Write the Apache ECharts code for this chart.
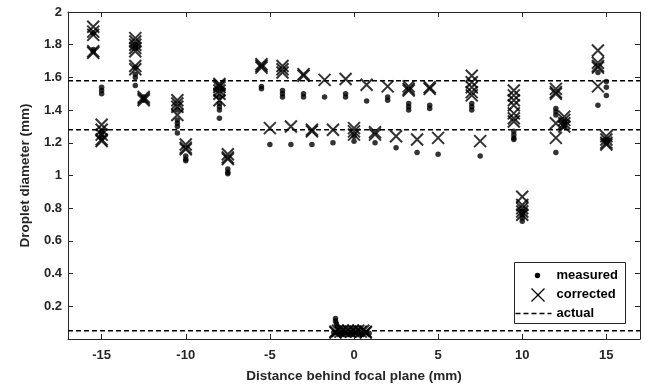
<!DOCTYPE html>
<html lang="en">
<head>
<meta charset="UTF-8">
<title>Droplet diameter</title>
<script src="https://cdn.jsdelivr.net/npm/echarts@6/dist/echarts.min.js"></script>
<style>
  html, body { margin: 0; width: 100%; height: 100%; background: #fff; }
  #chart { width: 654px; height: 389px; }
</style>
</head>
<body>
<div id="chart"></div>
<script>
// [distance (mm), diameter (mm)]
var measured = [
  [-15.5, 1.87], [-15.5, 1.77], [-15.5, 1.76],
  [-15, 1.54], [-15, 1.52], [-15, 1.50], [-15, 1.27], [-15, 1.25], [-15, 1.23],
  [-13, 1.80], [-13, 1.78], [-13, 1.66], [-13, 1.62], [-13, 1.60], [-13, 1.55],
  [-12.5, 1.48], [-12.5, 1.46],
  [-10.5, 1.40], [-10.5, 1.34], [-10.5, 1.32], [-10.5, 1.30], [-10.5, 1.26],
  [-10, 1.12], [-10, 1.10], [-10, 1.09],
  [-8, 1.53], [-8, 1.48], [-8, 1.44], [-8, 1.42], [-8, 1.40], [-8, 1.35],
  [-7.5, 1.04], [-7.5, 1.02], [-7.5, 1.01],
  [-5.5, 1.545], [-5.5, 1.53],
  [-5, 1.19],
  [-4.25, 1.52], [-4.25, 1.50], [-4.25, 1.48],
  [-3.75, 1.19],
  [-3, 1.50], [-3, 1.48],
  [-2.5, 1.19],
  [-1.75, 1.48],
  [-1.25, 1.20],
  [-0.5, 1.50], [-0.5, 1.48],
  [0, 1.24], [0, 1.21],
  [0.75, 1.455],
  [1.25, 1.20],
  [2, 1.48], [2, 1.46],
  [2.5, 1.17],
  [3.25, 1.44], [3.25, 1.42], [3.25, 1.40],
  [3.75, 1.14],
  [4.5, 1.43], [4.5, 1.41],
  [5, 1.13],
  [7, 1.44], [7, 1.42], [7, 1.40],
  [7.5, 1.12],
  [9.5, 1.27], [9.5, 1.25], [9.5, 1.23], [9.5, 1.22],
  [10, 0.78], [10, 0.76], [10, 0.74], [10, 0.72],
  [12, 1.41], [12, 1.39], [12, 1.37], [12, 1.14],
  [12.5, 1.33], [12.5, 1.31], [12.5, 1.30],
  [14.5, 1.63], [14.5, 1.43],
  [15, 1.575], [15, 1.54], [15, 1.49], [15, 1.22], [15, 1.20],
  [-1.1, 0.125], [-1.1, 0.11], [-1.05, 0.095], [-1.0, 0.08],
  [-1.2, 0.04], [-1, 0.04], [-0.75, 0.035], [-0.5, 0.04], [-0.25, 0.03], [0, 0.04],
  [0.25, 0.035], [0.5, 0.03], [0.75, 0.04], [0.9, 0.035]
];

var corrected = [
  [-15.5, 1.91], [-15.5, 1.88], [-15.5, 1.86], [-15.5, 1.76], [-15.5, 1.75],
  [-15, 1.31], [-15, 1.28], [-15, 1.25], [-15, 1.22], [-15, 1.21],
  [-13, 1.84], [-13, 1.82], [-13, 1.80], [-13, 1.78], [-13, 1.76], [-13, 1.67], [-13, 1.65],
  [-12.5, 1.48], [-12.5, 1.47], [-12.5, 1.46],
  [-10.5, 1.46], [-10.5, 1.44], [-10.5, 1.42], [-10.5, 1.37],
  [-10, 1.19], [-10, 1.17], [-10, 1.16],
  [-8, 1.56], [-8, 1.55], [-8, 1.54], [-8, 1.52], [-8, 1.50], [-8, 1.46],
  [-7.5, 1.13], [-7.5, 1.11], [-7.5, 1.10],
  [-5.5, 1.68], [-5.5, 1.67], [-5.5, 1.66],
  [-5, 1.29],
  [-4.25, 1.67], [-4.25, 1.65], [-4.25, 1.63],
  [-3.75, 1.30],
  [-3, 1.62], [-3, 1.61],
  [-2.5, 1.28], [-2.5, 1.27],
  [-1.75, 1.585],
  [-1.25, 1.28],
  [-0.5, 1.59],
  [0, 1.29], [0, 1.27], [0, 1.25],
  [0.75, 1.555],
  [1.25, 1.265], [1.25, 1.25],
  [2, 1.545],
  [2.5, 1.24],
  [3.25, 1.545], [3.25, 1.53], [3.25, 1.52],
  [3.75, 1.22],
  [4.5, 1.54], [4.5, 1.53],
  [5, 1.23],
  [7, 1.61], [7, 1.57], [7, 1.54], [7, 1.51], [7, 1.49],
  [7.5, 1.21],
  [9.5, 1.52], [9.5, 1.49], [9.5, 1.46], [9.5, 1.43], [9.5, 1.38], [9.5, 1.35], [9.5, 1.33],
  [10, 0.87], [10, 0.82], [10, 0.80], [10, 0.78], [10, 0.76],
  [12, 1.53], [12, 1.51], [12, 1.50], [12, 1.32], [12, 1.23],
  [12.5, 1.36], [12.5, 1.34], [12.5, 1.32], [12.5, 1.30],
  [14.5, 1.765], [14.5, 1.69], [14.5, 1.67], [14.5, 1.66], [14.5, 1.545],
  [15, 1.24], [15, 1.22], [15, 1.20], [15, 1.19],
  [-1.1, 0.045], [-0.95, 0.05], [-0.8, 0.045], [-0.65, 0.05], [-0.5, 0.045],
  [-0.35, 0.05], [-0.2, 0.045], [-0.05, 0.05], [0.1, 0.045], [0.25, 0.05],
  [0.4, 0.045], [0.55, 0.05], [0.7, 0.045], [-1.1, 0.04], [0.7, 0.04]
];

var actualSizes = [1.58, 1.28, 0.05];
var xRange = [-17, 17];
var xTicks = [-15, -10, -5, 0, 5, 10, 15];
var yTicks = [0.2, 0.4, 0.6, 0.8, 1, 1.2, 1.4, 1.6, 1.8, 2];

var ink = '#262626';
var font = { fontFamily: 'Liberation Sans, Arial, sans-serif', fontWeight: 'bold', fontSize: 13, color: ink };
var nameFont = Object.assign({}, font, { fontSize: 13.5 });
var cross = 'path://M0,0L10,10M10,0L0,10';

var lineSeries = actualSizes.map(function (d) {
  return {
    type: 'line', name: 'actual', symbol: 'none', silent: true, z: 1,
    lineStyle: { color: '#000', width: 1.5, type: [5, 3] },
    data: [[xRange[0], d], [xRange[1], d]]
  };
});

function axisX(pos, show) {
  return {
    type: 'value', position: pos, min: xRange[0], max: xRange[1],
    name: show ? 'Distance behind focal plane (mm)' : '',
    nameLocation: 'middle', nameGap: 30, nameTextStyle: nameFont,
    axisLine: { onZero: false, lineStyle: { color: ink, width: 1 } },
    axisTick: { inside: true, length: 5, customValues: xTicks, lineStyle: { color: ink } },
    axisLabel: Object.assign({ show: show, margin: 10, customValues: xTicks }, font),
    splitLine: { show: false }
  };
}

function axisY(pos, show) {
  return {
    type: 'value', position: pos, min: 0, max: 2,
    name: show ? 'Droplet diameter (mm)' : '',
    nameLocation: 'middle', nameGap: 36, nameTextStyle: nameFont,
    axisLine: { onZero: false, lineStyle: { color: ink, width: 1 } },
    axisTick: { inside: true, length: 5, customValues: yTicks, lineStyle: { color: ink } },
    axisLabel: Object.assign({
      show: show, margin: 6, customValues: yTicks,
      formatter: function (v) { return String(parseFloat(v.toFixed(1))); }
    }, font),
    splitLine: { show: false }
  };
}

var chart = echarts.init(document.getElementById('chart'));
chart.setOption({
  animation: false,
  backgroundColor: '#fff',
  grid: { left: 68, right: 14, top: 12, bottom: 50 },
  xAxis: [axisX('bottom', true), axisX('top', false)],
  yAxis: [axisY('left', true), axisY('right', false)],
  series: lineSeries.concat([
    {
      type: 'scatter', name: 'measured', symbol: 'circle', symbolSize: 5.5, z: 3,
      itemStyle: { color: '#000' }, silent: true,
      data: measured
    },
    {
      type: 'scatter', name: 'corrected', symbol: cross, symbolSize: 12, z: 4,
      itemStyle: { color: 'transparent', borderColor: '#000', borderWidth: 2 }, silent: true,
      data: corrected
    }
  ]),
  graphic: [
    {
      type: 'group', left: 513, top: 262, z: 10,
      children: [
        { type: 'rect', shape: { x: 0, y: 0, width: 111, height: 61 },
          style: { fill: '#fff', stroke: ink, lineWidth: 1 } },
        { type: 'circle', shape: { cx: 23, cy: 13, r: 2.7 }, style: { fill: '#000' } },
        { type: 'text', x: 42, y: 13, style: Object.assign({ text: 'measured', verticalAlign: 'middle', fill: '#000' }, font) },
        { type: 'line', shape: { x1: 17, y1: 26, x2: 30, y2: 39 }, style: { stroke: '#000', lineWidth: 1.3 } },
        { type: 'line', shape: { x1: 30, y1: 26, x2: 17, y2: 39 }, style: { stroke: '#000', lineWidth: 1.3 } },
        { type: 'text', x: 42, y: 32, style: Object.assign({ text: 'corrected', verticalAlign: 'middle', fill: '#000' }, font) },
        { type: 'line', shape: { x1: 1, y1: 51, x2: 37, y2: 51 }, style: { stroke: '#000', lineWidth: 1.5, lineDash: [5, 3] } },
        { type: 'text', x: 42, y: 51, style: Object.assign({ text: 'actual', verticalAlign: 'middle', fill: '#000' }, font) }
      ]
    }
  ]
});
</script>
</body>
</html>
